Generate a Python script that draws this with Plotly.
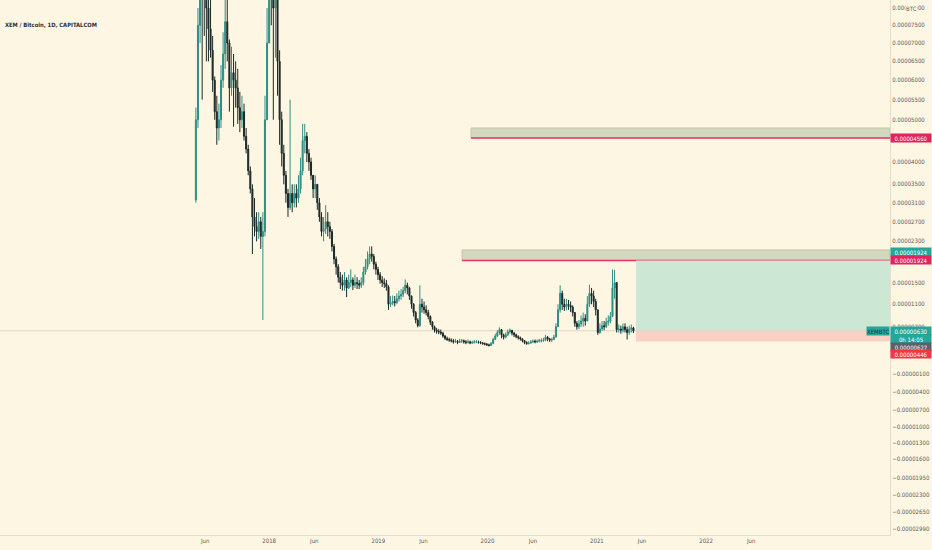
import numpy as np
import pandas as pd
import plotly.graph_objects as go

# XEM/BTC, weekly candles, prices in satoshi (1e-8 BTC)
week_start = "2017-05-01"
first_open_sat = 3160
close_sat = [
    5000, 7500, 9000, 8800, 8500, 8000, 7400, 6800, 6000, 5200,
    4800, 5000, 6000, 6700, 7600, 7000, 5800, 6200, 6000, 5800,
    5300, 5000, 5200, 4600, 4300, 3800, 3400, 2800, 2600, 2500,
    2700, 2400, 2500, 5000, 7000, 9500, 8800, 8000, 8500, 6500,
    5000, 4200, 3700, 3300, 3000, 3300, 3100, 3300, 3200, 3400,
    3800, 4500, 4600, 4200, 4000, 3700, 3400, 3500, 3100, 2800,
    2500, 2550, 2700, 2600, 2500, 2200, 1950, 1800, 1600, 1500,
    1450, 1550, 1400, 1500, 1550, 1450, 1500, 1480, 1450, 1500,
    1700, 1800, 1950, 2050, 2000, 1850, 1750, 1650, 1550, 1500,
    1480, 1420, 1100, 1120, 1150, 1130, 1200, 1250, 1280, 1350,
    1450, 1400, 1250, 1100, 950, 820, 720, 1100, 1050, 1000,
    950, 880, 780, 700, 640, 620, 610, 590, 540, 500,
    480, 470, 460, 440, 450, 430, 450, 460, 440, 430,
    440, 420, 430, 440, 440, 430, 420, 410, 400, 390,
    380, 410, 480, 540, 600, 650, 560, 520, 560, 610,
    640, 590, 560, 530, 510, 490, 460, 430, 410, 420,
    440, 450, 440, 450, 460, 460, 470, 520, 490, 470,
    480, 520, 700, 1000, 1300, 1100, 1050, 1100, 1080, 1050,
    950, 760, 700, 750, 800, 850, 800, 1100, 1300, 1250,
    1150, 1000, 600, 660, 720, 700, 780, 800, 880, 1400,
    1500, 650, 660, 640, 700, 650, 600, 660, 680, 630,
]
high_sat = [
    5300, 8000, 11000, 10500, 9800, 9200, 8600, 8300, 7200, 6100,
    5600, 5400, 6400, 7300, 9000, 8600, 7100, 6900, 6700, 6500,
    6300, 5700, 5600, 5400, 4800, 4400, 3900, 3500, 3200, 2900,
    2900, 2800, 2900, 5600, 8000, 12000, 11000, 9500, 9800, 8600,
    6800, 5200, 4400, 3800, 3400, 5500, 3500, 3500, 3500, 3700,
    4100, 4900, 4900, 4700, 4300, 4100, 3650, 3700, 3400, 3200,
    2900, 2800, 3050, 2900, 2700, 2550, 2250, 2000, 1850, 1700,
    1650, 1700, 1600, 1650, 1750, 1600, 1650, 1600, 1550, 1600,
    1800, 1950, 2100, 2200, 2200, 2050, 1900, 1800, 1700, 1620,
    1580, 1550, 1450, 1250, 1260, 1250, 1300, 1350, 1380, 1420,
    1560, 1500, 1420, 1260, 1120, 980, 850, 1450, 1200, 1150,
    1080, 1000, 900, 800, 720, 680, 660, 650, 610, 560,
    530, 510, 500, 490, 490, 470, 490, 490, 480, 470,
    480, 460, 460, 470, 470, 460, 450, 440, 430, 420,
    410, 440, 510, 580, 640, 690, 660, 580, 600, 650,
    670, 640, 610, 580, 550, 530, 500, 470, 450, 450,
    470, 480, 480, 480, 490, 500, 510, 560, 540, 510,
    510, 560, 760, 1100, 1450, 1350, 1200, 1200, 1180, 1150,
    1080, 960, 800, 820, 900, 950, 920, 1250, 1460, 1400,
    1350, 1200, 1000, 760, 800, 800, 860, 900, 960, 1750,
    1740, 1500, 740, 720, 760, 760, 700, 720, 740, 700,
]
low_sat = [
    3100, 4800, 7000, 5500, 7200, 6500, 6500, 6600, 5700, 5000,
    4400, 4500, 4800, 5800, 6300, 6500, 5200, 5600, 4830, 5300,
    4900, 4700, 4800, 4500, 4200, 3700, 3300, 2050, 2400, 2300,
    2350, 2150, 820, 2400, 5000, 7000, 7500, 5000, 6600, 5600,
    4400, 3900, 3500, 3100, 2800, 2950, 2900, 3000, 3000, 3100,
    3300, 3700, 4200, 4000, 3800, 3600, 3200, 3200, 2950, 2700,
    2400, 2300, 2450, 2400, 2350, 2100, 1850, 1650, 1500, 1380,
    1350, 1350, 1230, 1380, 1420, 1360, 1400, 1380, 1380, 1400,
    1450, 1650, 1750, 1850, 1900, 1750, 1650, 1550, 1480, 1420,
    1400, 1350, 1000, 1050, 1080, 1060, 1100, 1150, 1180, 1230,
    1300, 1280, 1180, 1020, 880, 760, 690, 700, 950, 930,
    900, 830, 730, 650, 600, 580, 570, 560, 510, 470,
    455, 440, 430, 410, 420, 400, 420, 420, 410, 400,
    410, 400, 405, 410, 415, 410, 400, 390, 380, 370,
    360, 370, 400, 470, 520, 560, 500, 480, 500, 540,
    580, 550, 520, 500, 480, 460, 430, 400, 390, 395,
    410, 420, 415, 420, 430, 430, 440, 450, 450, 440,
    440, 470, 520, 700, 950, 1000, 980, 990, 1000, 960,
    880, 700, 650, 660, 700, 700, 720, 800, 1050, 1100,
    1050, 900, 560, 580, 630, 640, 680, 720, 760, 870,
    1200, 600, 600, 580, 600, 600, 480, 560, 600, 590,
]

# drawn levels (satoshi) and their start dates
supply_zone_sat = [4560, 4800]
supply_zone_start = "2019-11-07"
mid_zone_sat = [1924, 2130]
mid_zone_start = "2019-10-08"
position_start = "2021-05-12"
entry_sat = 630
target_sat = 1924
stop_sat = 446
last_close_sat = 627

# price axis tick labels (satoshi)
ytick_sat = [8000, 7500, 7000, 6500, 6000, 5500, 5000, 4000, 3500, 3100, 2700,
             2300, 1500, 1100, 700, -100, -400, -700, -1000, -1300, -1600,
             -1950, -2300, -2650, -2990]
xtick_dates = ["2017-06-01", "2018-01-01", "2018-06-01", "2019-01-01", "2019-06-01",
               "2020-01-01", "2020-06-01", "2021-01-01", "2021-06-01", "2022-01-01",
               "2022-06-01"]
xtick_text = ["Jun", "2018", "Jun", "2019", "Jun", "2020", "Jun", "2021", "Jun", "2022", "Jun"]

SAT = 1e-8
LOG_OFFSET = 1e-4  # tradingview style log scale offset


def to_axis(sat):
    p = np.asarray(sat, dtype=float) * SAT
    return np.sign(p) * np.log10(1 + np.abs(p) / LOG_OFFSET)


dates = pd.date_range(week_start, periods=len(close_sat), freq="7D")
open_sat = [first_open_sat] + close_sat[:-1]

BG = "#fdf6e3"
FONT = "Liberation Sans Narrow, DejaVu Sans Condensed, Liberation Sans"
X_START, X_END = "2015-07-16", "2023-09-08"
Y_RANGE = [-0.11819, 0.26097]

fig = go.Figure()

fig.add_trace(go.Candlestick(
    x=dates,
    open=to_axis(open_sat),
    high=to_axis(high_sat),
    low=to_axis(low_sat),
    close=to_axis(close_sat),
    increasing=dict(line=dict(color="#2f8f85", width=1), fillcolor="#2f8f85"),
    decreasing=dict(line=dict(color="#1c2926", width=1), fillcolor="#1c2926"),
    whiskerwidth=0,
    showlegend=False,
    hoverinfo="skip",
))

# zones
for start, (lo, hi) in [(supply_zone_start, supply_zone_sat), (mid_zone_start, mid_zone_sat)]:
    fig.add_shape(type="rect", xref="x", yref="y", x0=start, x1=X_END,
                  y0=float(to_axis(lo)), y1=float(to_axis(hi)),
                  fillcolor="#d1d8bd", line=dict(color="#cbc3aa", width=1), layer="below")
    fig.add_shape(type="line", xref="x", yref="y", x0=start, x1=X_END,
                  y0=float(to_axis(lo)), y1=float(to_axis(lo)),
                  line=dict(color="#e8336b", width=1.5), layer="below")

# long position tool
fig.add_shape(type="rect", xref="x", yref="y", x0=position_start, x1=X_END,
              y0=float(to_axis(entry_sat)), y1=float(to_axis(target_sat)),
              fillcolor="#cce7d4", line=dict(width=0), layer="below")
fig.add_shape(type="rect", xref="x", yref="y", x0=position_start, x1=X_END,
              y0=float(to_axis(stop_sat)), y1=float(to_axis(entry_sat)),
              fillcolor="#f9d0c3", line=dict(width=0), layer="below")

# last price line
fig.add_shape(type="line", xref="x", yref="y", x0=X_START, x1=X_END,
              y0=float(to_axis(entry_sat)), y1=float(to_axis(entry_sat)),
              line=dict(color="#ddd6c4", width=1), layer="below")


def fmt(v):
    return f"{v * SAT:.8f}".replace("-", "\u2212")


def price_tag(sat, text, bg, yshift=0, color="white"):
    fig.add_annotation(x=1, xref="paper", y=float(to_axis(sat)), yref="y",
                       xanchor="left", yanchor="middle", yshift=yshift,
                       text=text, showarrow=False, bgcolor=bg, borderpad=0,
                       font=dict(size=6, color=color, family=FONT),
                       width=40, height=8, align="center")


price_tag(supply_zone_sat[0], fmt(supply_zone_sat[0]), "#e0245e")
price_tag(target_sat, fmt(target_sat), "#26a69a", yshift=8)
price_tag(target_sat, fmt(target_sat), "#e0245e")
price_tag(entry_sat, fmt(entry_sat), "#26a69a")
price_tag(entry_sat, "0h 14:05", "#26a69a", yshift=-8)
price_tag(last_close_sat, fmt(last_close_sat), "#5d606b", yshift=-16)
price_tag(stop_sat, fmt(stop_sat), "#f23645", yshift=-13)

fig.add_annotation(x=1, xref="paper", y=float(to_axis(entry_sat)), yref="y",
                   xanchor="right", yanchor="middle", text="XEMBTC", showarrow=False,
                   bgcolor="#26a69a", borderpad=0, height=8,
                   font=dict(size=6, color="#0f3d38", family=FONT))

# currency marker over the top tick label
fig.add_annotation(x=1, xref="paper", y=float(to_axis(ytick_sat[0])), yref="y",
                   xanchor="center", yanchor="middle", xshift=21, text="BTC",
                   showarrow=False, bgcolor=BG, borderpad=0,
                   font=dict(size=6, color="#5b5b5b", family=FONT))

fig.add_annotation(x=0, xref="paper", y=1, yref="paper", xanchor="left", yanchor="top",
                   xshift=3, yshift=-20, text="<b>XEM / Bitcoin, 1D, CAPITALCOM</b>",
                   showarrow=False,
                   font=dict(size=5.8, color="#2a2e39", family=FONT))

fig.update_layout(
    width=932, height=550,
    margin=dict(l=0, r=42, t=0, b=15),
    paper_bgcolor=BG, plot_bgcolor=BG,
    showlegend=False,
    xaxis=dict(
        type="date", range=[X_START, X_END],
        tickvals=xtick_dates, ticktext=xtick_text,
        tickfont=dict(size=6, color="#5b5b5b", family=FONT),
        showgrid=False, zeroline=False, showline=True, linecolor="#e6dfcc",
        ticks="", rangeslider=dict(visible=False),
    ),
    yaxis=dict(
        side="right", range=Y_RANGE,
        tickvals=to_axis(ytick_sat), ticktext=[fmt(v) for v in ytick_sat],
        tickfont=dict(size=6, color="#5b5b5b", family=FONT),
        showgrid=False, zeroline=False, showline=True, linecolor="#e6dfcc",
        ticks="",
    ),
)

fig.write_html("out.html", config={"displayModeBar": False},
               post_script="document.body.style.margin='0';")
